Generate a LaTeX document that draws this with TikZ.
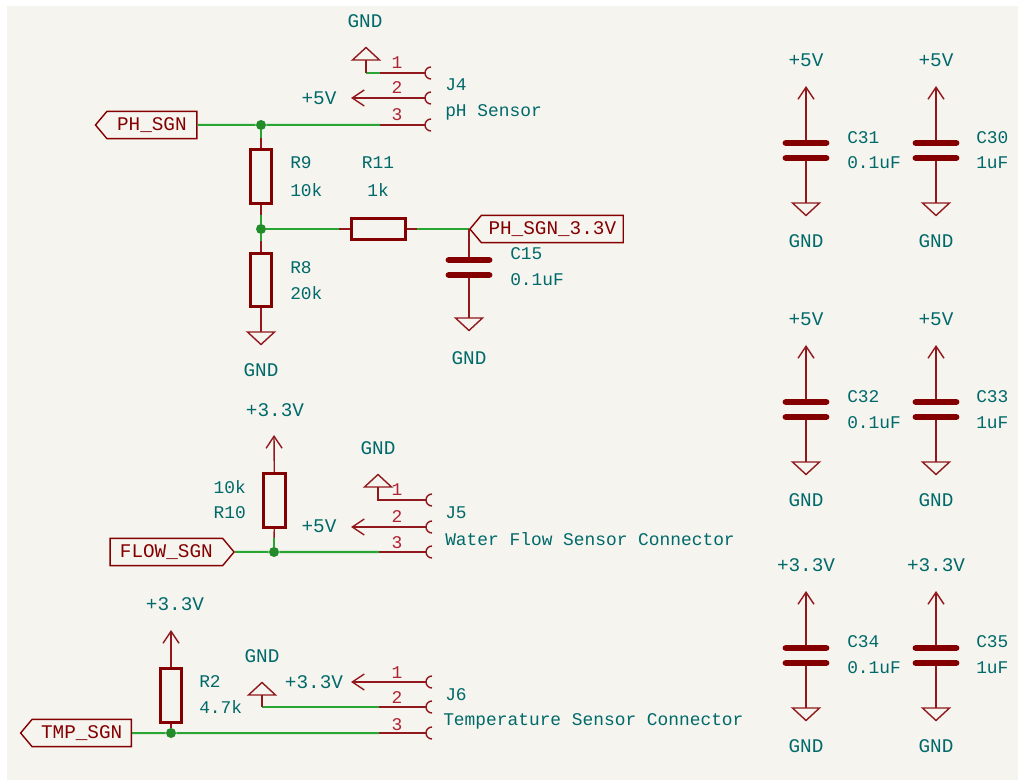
\documentclass[tikz,border=0pt]{standalone}
\usepackage{fontspec}
\setmainfont{Liberation Mono}
\usetikzlibrary{arrows.meta,shapes.symbols}
\definecolor{sheetbg}{RGB}{245,244,239}
\definecolor{symred}{RGB}{132,0,0}
\definecolor{pinred}{RGB}{145,25,30}
\definecolor{wiregreen}{RGB}{40,165,50}
\definecolor{reftxt}{RGB}{0,105,105}
\definecolor{pintxt}{RGB}{175,35,50}
\tikzset{
  wire/.style={color=wiregreen,line width=1.5pt},
  pinline/.style={color=pinred,line width=1.05pt},
  pwrline/.style={pinline,-{Straight Barb[length=9pt,width=12pt,line width=1.05pt]}},
  resbody/.style={draw=symred,line width=2.1pt,minimum width=16pt,minimum height=40pt,inner sep=0pt},
  reshoriz/.style={draw=symred,line width=2.1pt,minimum width=40pt,minimum height=16pt,inner sep=0pt},
  plate/.style={fill=symred,rounded corners=2pt,minimum width=35pt,minimum height=4.2pt,inner sep=0pt},
  junction/.style={circle,fill=wiregreen!85!black,minimum size=7.5pt,inner sep=0pt},
  reflabel/.style={text=reftxt,font=\fontsize{13.4}{16}\selectfont,inner sep=0pt},
  pwrlabel/.style={text=reftxt,font=\fontsize{14.5}{17}\selectfont,inner sep=0pt},
  pinnum/.style={text=pintxt,font=\fontsize{13.4}{16}\selectfont,inner sep=0pt},
  hlabel/.style={draw=symred,line width=1.05pt,text=symred,shape=signal,signal pointer angle=100,
    font=\fontsize{14.5}{17}\selectfont,inner sep=0pt,minimum height=20.5pt},
  gndsym/.pic={\draw[pinline] (-13.5,0) -- (13.5,0) -- (0,12.5) -- cycle;},
  sockend/.pic={\draw[pinline] (6,-6) arc [start angle=-90,end angle=-270,radius=6];}
}
\begin{document}
\begin{tikzpicture}[x=0.75pt,y=0.75pt,yscale=-1,xscale=1]
\useasboundingbox (0,0) rectangle (1018,780);
\fill [sheetbg] (7,6) rectangle (1018,780);

%Connector J4
\coordinate (j4a) at (425,73);
\coordinate (j4b) at (425,98);
\coordinate (j4c) at (425,125);
\coordinate (j4an) at (380,73);
\coordinate (j4cn) at (380,125);
\coordinate (j4gnd) at (366,60);
\coordinate (j4pwr) at (351,98);
\pic at (j4a) {sockend};
\pic at (j4b) {sockend};
\pic at (j4c) {sockend};
\pic at (j4gnd) {gndsym};
\draw [pinline] (j4a) -- (j4an);
\draw [wire] (j4an) -- (j4gnd |- j4an);
\draw [pinline] (j4gnd) -- (j4gnd |- j4an);
\draw [pwrline] (j4b) -- (j4pwr);
\draw [pinline] (j4c) -- (j4cn);

%Divider
\node [hlabel,signal to=west,minimum width=76pt,anchor=east] (phsgn) at (197.5,125) {PH\_SGN};
\node [junction] (jtop) at (261,125) {};
\node [resbody] (r9) at (261,176.5) {};
\node [junction] (jmid) at (261,229) {};
\node [resbody] (r8) at (261,280) {};
\node [reshoriz] (r11) at (378.5,229) {};
\node [hlabel,signal to=west,minimum width=115pt,anchor=west] (phsgn33) at (469,229) {PH\_SGN\_3.3V};
\node [plate] (c15a) at (469,260) {};
\node [plate] (c15b) at (469,275) {};
\coordinate (r8gnd) at (261,332);
\coordinate (c15gnd) at (469,318);
\pic [yscale=-1] at (r8gnd) {gndsym};
\pic [yscale=-1] at (c15gnd) {gndsym};
\draw [wire] (phsgn) -- (jtop) -- (j4cn);
\draw [pinline] (jtop) -- (r9);
\draw [wire] (jtop) -- (261,138);
\draw [pinline] (r9) -- (jmid);
\draw [wire] (261,215) -- (jmid) -- (261,241);
\draw [pinline] (261,241) -- (r8);
\draw [pinline] (r8) -- (r8gnd);
\draw [wire] (jmid) -- (339,229);
\draw [pinline] (339,229) -- (r11);
\draw [pinline] (r11) -- (417,229);
\draw [wire] (417,229) -- (phsgn33.west);
\draw [pinline] (phsgn33.west) -- (c15a);
\draw [pinline] (c15b) -- (c15gnd);

%Connector J5
\coordinate (j5a) at (426,500);
\coordinate (j5b) at (426,527);
\coordinate (j5c) at (426,552);
\coordinate (j5cn) at (379,552);
\coordinate (j5gnd) at (378,487);
\coordinate (j5pwr) at (351,527);
\coordinate (r10pwr) at (274,435);
\pic at (j5a) {sockend};
\pic at (j5b) {sockend};
\pic at (j5c) {sockend};
\pic at (j5gnd) {gndsym};
\draw [pinline] (j5a) -| (j5gnd);
\draw [pwrline] (j5b) -- (j5pwr);
\draw [pinline] (j5c) -- (j5cn);
\node [resbody] (r10) at (274.5,500.5) {};
\node [junction] (jflow) at (274,552) {};
\node [hlabel,signal to=east,minimum width=93pt,anchor=east] (flowsgn) at (235,552) {FLOW\_SGN};
\draw [pwrline] (r10) -- (r10pwr);
\draw [pinline] (r10) -- (jflow);
\draw [wire] (274,538) -- (jflow);
\draw [wire] (flowsgn) -- (jflow) -- (j5cn);

%Connector J6
\coordinate (j6a) at (426,682);
\coordinate (j6b) at (426,707);
\coordinate (j6c) at (426,733);
\coordinate (j6bn) at (379,707);
\coordinate (j6cn) at (379,733);
\coordinate (j6gnd) at (262,695);
\coordinate (j6pwr) at (351,682);
\coordinate (r2pwr) at (171,630);
\pic at (j6a) {sockend};
\pic at (j6b) {sockend};
\pic at (j6c) {sockend};
\pic at (j6gnd) {gndsym};
\draw [pwrline] (j6a) -- (j6pwr);
\draw [pinline] (j6b) -- (j6bn);
\draw [wire] (j6bn) -- (j6gnd |- j6bn);
\draw [pinline] (j6gnd) -- (j6gnd |- j6bn);
\draw [pinline] (j6c) -- (j6cn);
\node [resbody] (r2) at (171,695.5) {};
\node [junction] (jtmp) at (171,733) {};
\node [hlabel,signal to=west,minimum width=83pt,anchor=east] (tmpsgn) at (132,733) {TMP\_SGN};
\draw [pwrline] (r2) -- (r2pwr);
\draw [pinline] (r2) -- (jtmp);
\draw [wire] (tmpsgn) -- (jtmp) -- (j6cn);

%Decoupling C31 C30
\node [plate] (c31a) at (806,143) {};
\node [plate] (c31b) at (806,158) {};
\coordinate (c31pwr) at (806,86);
\coordinate (c31gnd) at (806,203);
\draw [pwrline] (c31a) -- (c31pwr);
\draw [pinline] (c31b) -- (c31gnd);
\pic [yscale=-1] at (c31gnd) {gndsym};
\node [plate] (c30a) at (936,143) {};
\node [plate] (c30b) at (936,158) {};
\coordinate (c30pwr) at (936,86);
\coordinate (c30gnd) at (936,203);
\draw [pwrline] (c30a) -- (c30pwr);
\draw [pinline] (c30b) -- (c30gnd);
\pic [yscale=-1] at (c30gnd) {gndsym};

%Decoupling C32 C33
\node [plate] (c32a) at (806,402) {};
\node [plate] (c32b) at (806,417) {};
\coordinate (c32pwr) at (806,345);
\coordinate (c32gnd) at (806,462);
\draw [pwrline] (c32a) -- (c32pwr);
\draw [pinline] (c32b) -- (c32gnd);
\pic [yscale=-1] at (c32gnd) {gndsym};
\node [plate] (c33a) at (936,402) {};
\node [plate] (c33b) at (936,417) {};
\coordinate (c33pwr) at (936,345);
\coordinate (c33gnd) at (936,462);
\draw [pwrline] (c33a) -- (c33pwr);
\draw [pinline] (c33b) -- (c33gnd);
\pic [yscale=-1] at (c33gnd) {gndsym};

%Decoupling C34 C35
\node [plate] (c34a) at (806,648) {};
\node [plate] (c34b) at (806,663) {};
\coordinate (c34pwr) at (806,591);
\coordinate (c34gnd) at (806,708);
\draw [pwrline] (c34a) -- (c34pwr);
\draw [pinline] (c34b) -- (c34gnd);
\pic [yscale=-1] at (c34gnd) {gndsym};
\node [plate] (c35a) at (936,648) {};
\node [plate] (c35b) at (936,663) {};
\coordinate (c35pwr) at (936,591);
\coordinate (c35gnd) at (936,708);
\draw [pwrline] (c35a) -- (c35pwr);
\draw [pinline] (c35b) -- (c35gnd);
\pic [yscale=-1] at (c35gnd) {gndsym};

% Text Node
\node [pwrlabel] (tgnd1) at (365,21) {GND};
\node [pwrlabel] (tv1) at (319,98) {+5V};
\node [pinnum] (n1a) at (397,63) {1};
\node [pinnum] (n1b) at (397,88) {2};
\node [pinnum] (n1c) at (397,115) {3};
\node [reflabel,anchor=west] (tj4) at (445,85) {J4};
\node [reflabel,anchor=west] (tj4v) at (445,112) {pH Sensor};
\node [reflabel,anchor=west] (tr9) at (290,163) {R9};
\node [reflabel,anchor=west] (tr9v) at (290,190) {10k};
\node [reflabel] (tr11) at (378,163) {R11};
\node [reflabel] (tr11v) at (378,190) {1k};
\node [reflabel,anchor=west] (tr8) at (290,268) {R8};
\node [reflabel,anchor=west] (tr8v) at (290,293) {20k};
\node [reflabel,anchor=west] (tc15) at (510,254) {C15};
\node [reflabel,anchor=west] (tc15v) at (510,280) {0.1uF};
\node [pwrlabel] (tgnd2) at (261,370) {GND};
\node [pwrlabel] (tgnd3) at (469,358) {GND};

% Text Node
\node [pwrlabel] (tv2) at (275,410) {+3.3V};
\node [reflabel,anchor=east] (tr10v) at (246,487) {10k};
\node [reflabel,anchor=east] (tr10) at (246,513) {R10};
\node [pwrlabel] (tgnd4) at (378,448) {GND};
\node [pwrlabel] (tv3) at (319,526) {+5V};
\node [pinnum] (n2a) at (397,490) {1};
\node [pinnum] (n2b) at (397,517) {2};
\node [pinnum] (n2c) at (397,543) {3};
\node [reflabel,anchor=west] (tj5) at (445,513) {J5};
\node [reflabel,anchor=west] (tj5v) at (445,539) {Water Flow Sensor Connector};

% Text Node
\node [pwrlabel] (tv4) at (175,604) {+3.3V};
\node [reflabel,anchor=west] (tr2) at (199,682) {R2};
\node [reflabel,anchor=west] (tr2v) at (199,707) {4.7k};
\node [pwrlabel] (tgnd5) at (262,656) {GND};
\node [pwrlabel] (tv5) at (314,682) {+3.3V};
\node [pinnum] (n3a) at (397,673) {1};
\node [pinnum] (n3b) at (397,698) {2};
\node [pinnum] (n3c) at (397,725) {3};
\node [reflabel,anchor=west] (tj6) at (445,695) {J6};
\node [reflabel,anchor=west] (tj6v) at (443,721) {Temperature Sensor Connector};

% Text Node
\node [pwrlabel] (tv31) at (806,60) {+5V};
\node [pwrlabel] (tg31) at (806,241) {GND};
\node [reflabel,anchor=west] (tc31) at (847,138) {C31};
\node [reflabel,anchor=west] (tc31v) at (847,163) {0.1uF};
\node [pwrlabel] (tv30) at (936,60) {+5V};
\node [pwrlabel] (tg30) at (936,241) {GND};
\node [reflabel,anchor=west] (tc30) at (976,138) {C30};
\node [reflabel,anchor=west] (tc30v) at (976,163) {1uF};
\node [pwrlabel] (tv32) at (806,319) {+5V};
\node [pwrlabel] (tg32) at (806,500) {GND};
\node [reflabel,anchor=west] (tc32) at (847,397) {C32};
\node [reflabel,anchor=west] (tc32v) at (847,423) {0.1uF};
\node [pwrlabel] (tv33) at (936,319) {+5V};
\node [pwrlabel] (tg33) at (936,500) {GND};
\node [reflabel,anchor=west] (tc33) at (976,397) {C33};
\node [reflabel,anchor=west] (tc33v) at (976,423) {1uF};
\node [pwrlabel] (tv34) at (806,565) {+3.3V};
\node [pwrlabel] (tg34) at (806,746) {GND};
\node [reflabel,anchor=west] (tc34) at (847,642) {C34};
\node [reflabel,anchor=west] (tc34v) at (847,668) {0.1uF};
\node [pwrlabel] (tv35) at (936,565) {+3.3V};
\node [pwrlabel] (tg35) at (936,746) {GND};
\node [reflabel,anchor=west] (tc35) at (976,642) {C35};
\node [reflabel,anchor=west] (tc35v) at (976,668) {1uF};

\end{tikzpicture}
\end{document}
